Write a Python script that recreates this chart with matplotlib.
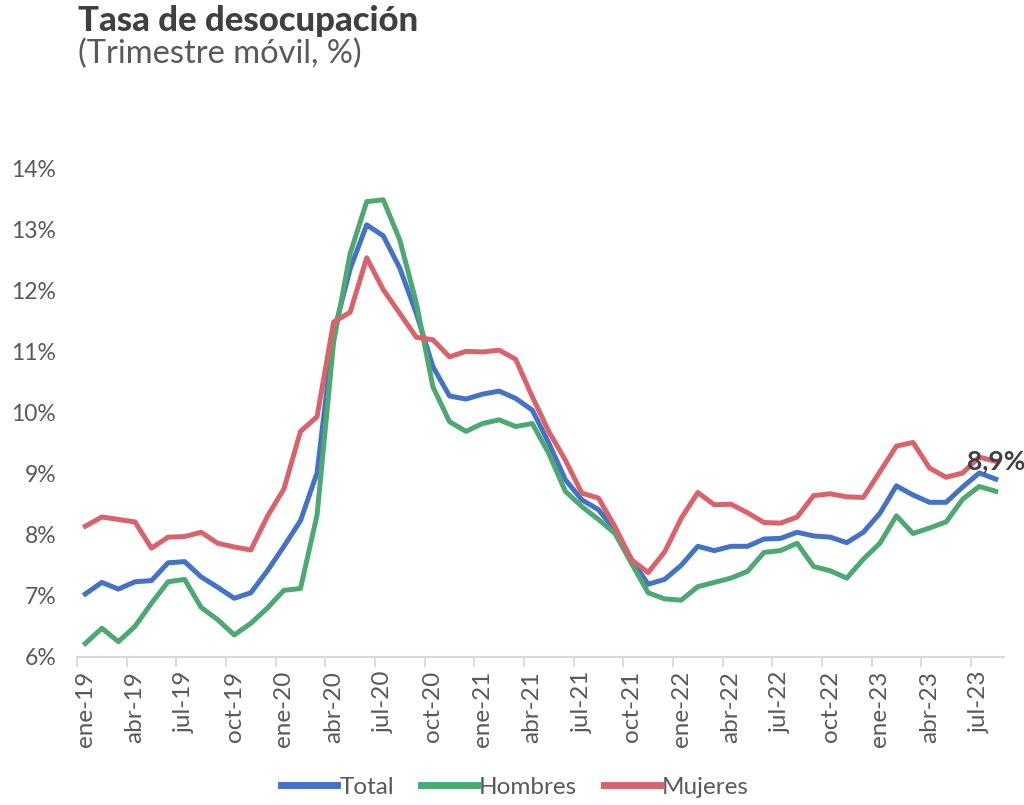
import matplotlib.pyplot as plt

plt.rcParams['font.family'] = ['Lato', 'DejaVu Sans']

# Data: tasa de desocupación, trimestre móvil (%), ene-19 a ago-23
meses = ["ene", "feb", "mar", "abr", "may", "jun",
         "jul", "ago", "sep", "oct", "nov", "dic"]
periodos = [f"{m}-{a}" for a in range(19, 24) for m in meses][:56]

total = [7.03, 7.22, 7.11, 7.23, 7.25, 7.54, 7.56, 7.31, 7.14, 6.96, 7.05, 7.41,
         7.81, 8.23, 9.01, 11.30, 12.35, 13.07, 12.89, 12.36, 11.62, 10.75, 10.27, 10.22,
         10.30, 10.35, 10.23, 10.04, 9.50, 8.90, 8.57, 8.41, 8.08, 7.59, 7.19, 7.27,
         7.50, 7.81, 7.74, 7.81, 7.81, 7.93, 7.94, 8.04, 7.98, 7.96, 7.87, 8.04,
         8.35, 8.80, 8.65, 8.53, 8.53, 8.78, 9.01, 8.91]
hombres = [6.22, 6.47, 6.25, 6.50, 6.88, 7.23, 7.27, 6.81, 6.61, 6.36, 6.55, 6.80,
           7.09, 7.12, 8.32, 11.15, 12.60, 13.45, 13.48, 12.82, 11.79, 10.42, 9.85, 9.69,
           9.82, 9.88, 9.77, 9.82, 9.33, 8.71, 8.46, 8.25, 8.02, 7.53, 7.05, 6.95,
           6.93, 7.15, 7.22, 7.29, 7.40, 7.71, 7.74, 7.86, 7.48, 7.41, 7.29, 7.60,
           7.86, 8.31, 8.02, 8.11, 8.21, 8.58, 8.79, 8.71]
mujeres = [8.14, 8.29, 8.25, 8.21, 7.78, 7.96, 7.97, 8.04, 7.86, 7.80, 7.75, 8.30,
           8.75, 9.69, 9.93, 11.48, 11.64, 12.53, 12.01, 11.62, 11.23, 11.19, 10.91, 11.00,
           10.99, 11.02, 10.87, 10.26, 9.69, 9.22, 8.68, 8.60, 8.13, 7.59, 7.38, 7.72,
           8.27, 8.69, 8.49, 8.50, 8.36, 8.20, 8.19, 8.29, 8.64, 8.67, 8.62, 8.61,
           9.03, 9.45, 9.51, 9.09, 8.94, 9.01, 9.27, 9.20]

x = list(range(len(periodos)))
gris = "#595959"

fig = plt.figure(figsize=(10.24, 8.05), dpi=100)
ax = fig.add_axes([0.0752, 0.1839, 0.9053, 0.6074])

ax.plot(x, total, color="#4472C4", lw=3.6, label="Total", solid_joinstyle="round")
ax.plot(x, hombres, color="#4EA872", lw=3.6, label="Hombres", solid_joinstyle="round")
ax.plot(x, mujeres, color="#D9636A", lw=3.6, label="Mujeres", solid_joinstyle="round")

# Etiqueta del último dato
ax.annotate(f"{total[-1]:.1f}%".replace(".", ","), (x[-1], total[-1]),
            xytext=(0, 4), textcoords="offset points", ha="center", va="bottom",
            fontsize=19, fontweight="bold", color="#404040")

# Ejes
ax.set_xlim(-0.5, len(x) - 0.5)
ax.set_ylim(6, 14)
ax.set_yticks(range(6, 15))
ax.set_yticklabels([f"{v}%" for v in range(6, 15)])
ax.set_xticks([i - 0.5 for i in range(0, len(x), 3)])
ax.set_xticklabels([])
ax.set_xticks(x[::3], minor=True)
ax.set_xticklabels(periodos[::3], minor=True, rotation=90)
ax.tick_params(axis="x", which="major", length=7, width=1.3, color="#D9D9D9")
ax.tick_params(axis="x", which="minor", length=0, pad=10, labelsize=17.5, labelcolor=gris)
ax.tick_params(axis="y", length=0, pad=15, labelsize=16.5, labelcolor=gris)
for s in ["top", "right", "left"]:
    ax.spines[s].set_visible(False)
ax.spines["bottom"].set_color("#D9D9D9")
ax.spines["bottom"].set_linewidth(1.5)

# Títulos
fig.text(0.076, 0.962, "Tasa de desocupación", fontsize=25, fontweight="black",
         color="#404040", va="baseline")
fig.text(0.076, 0.922, "(Trimestre móvil, %)", fontsize=23.5, color=gris, va="baseline")

leg = fig.legend(loc="lower center", bbox_to_anchor=(0.503, -0.018), ncol=3, frameon=False,
                 fontsize=17.5, labelcolor=gris, handlelength=2.3, handletextpad=0.1,
                 columnspacing=1.1)
for h in leg.get_lines():
    h.set_linewidth(5)

fig.savefig("out.png", dpi=100)
